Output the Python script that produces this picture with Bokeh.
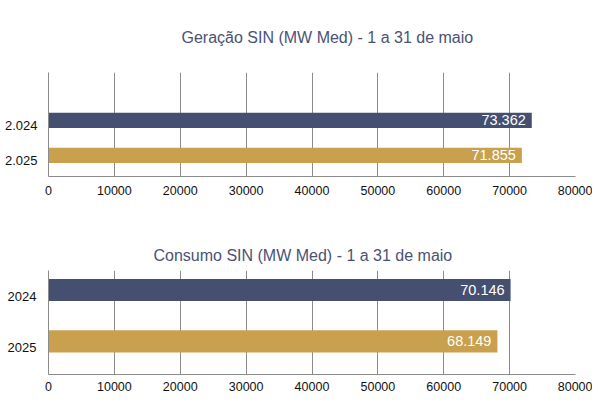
from bokeh.plotting import figure
from bokeh.models import ColumnDataSource, Range1d, FixedTicker, Title
from bokeh.layouts import column
from bokeh.transform import dodge
from bokeh.embed import file_html
from bokeh.resources import INLINE

# ---- data ----
title_top = "Geração SIN (MW Med) - 1 a 31 de maio"
cats_top = ["2.024", "2.025"]
vals_top = [73362, 71855]

title_bottom = "Consumo SIN (MW Med) - 1 a 31 de maio"
cats_bottom = ["2024", "2025"]
vals_bottom = [70146, 68149]

bar_colors = ["#454f6f", "#c8a04e"]
x_ticks = [0, 10000, 20000, 30000, 40000, 50000, 60000, 70000, 80000]

FONT = "Liberation Sans"
GRID = "#8c8c8c"
TITLE_COLOR = "#4a5274"


def br(v):
    return f"{v:,}".replace(",", ".")


def make_chart(title, cats, vals, height, y_lo, y_hi, bar_h, shift,
               b_left, b_right, b_top, b_bottom, title_offset, title_standoff,
               x_standoff, y_standoff):
    src = ColumnDataSource(dict(
        y=list(range(len(cats))),
        v=vals,
        c=bar_colors[:len(cats)],
        lab=[br(v) for v in vals],
    ))
    p = figure(width=592, height=height, output_backend="svg",
               toolbar_location=None, tools="",
               x_range=Range1d(0, 80000), y_range=Range1d(y_hi, y_lo),
               min_border_left=b_left, min_border_right=b_right,
               min_border_top=b_top, min_border_bottom=b_bottom)
    p.outline_line_color = None
    p.background_fill_color = "white"
    p.border_fill_color = "white"

    t = Title(text=title, align="left", offset=title_offset,
              text_font=FONT, text_font_size="16px",
              text_font_style="normal", text_color=TITLE_COLOR,
              standoff=title_standoff)
    p.add_layout(t, "above")

    p.hbar(y=dodge("y", shift), right="v", left=0, height=bar_h,
           fill_color="c", line_color=None, source=src)
    p.text(x="v", y=dodge("y", shift), text="lab", source=src,
           x_offset=-6, text_align="right", text_baseline="middle",
           text_color="white", text_font_size="14.5px",
           text_font={"value": FONT})

    # x axis
    p.xaxis.ticker = FixedTicker(ticks=x_ticks)
    p.xaxis.major_label_overrides = {t_: str(t_) for t_ in x_ticks}
    p.xaxis.major_tick_out = 0
    p.xaxis.major_tick_in = 0
    p.xaxis.minor_tick_out = 0
    p.xaxis.minor_tick_in = 0
    p.xaxis.axis_line_color = GRID
    p.xaxis.major_label_standoff = x_standoff
    p.xaxis.major_label_text_font = FONT
    p.xaxis.major_label_text_font_size = "12.5px"
    p.xaxis.major_label_text_color = "#111111"

    # y axis
    p.yaxis.ticker = FixedTicker(ticks=list(range(len(cats))))
    p.yaxis.major_label_overrides = {i: c for i, c in enumerate(cats)}
    p.yaxis.major_tick_out = 0
    p.yaxis.major_tick_in = 0
    p.yaxis.minor_tick_out = 0
    p.yaxis.minor_tick_in = 0
    p.yaxis.axis_line_color = GRID
    p.yaxis.major_label_standoff = y_standoff
    p.yaxis.major_label_text_font = FONT
    p.yaxis.major_label_text_font_size = "13px"
    p.yaxis.major_label_text_color = "#111111"

    p.xgrid.grid_line_color = GRID
    p.ygrid.grid_line_color = None
    return p


p1 = make_chart(title_top, cats_top, vals_top, 200,
                y_lo=-1.526, y_hi=1.443, bar_h=0.44, shift=-0.16,
                b_left=46, b_right=17, b_top=72, b_bottom=24,
                title_offset=133, title_standoff=53,
                x_standoff=9, y_standoff=11)
p2 = make_chart(title_bottom, cats_bottom, vals_bottom, 195,
                y_lo=-0.50, y_hi=1.524, bar_h=0.43, shift=-0.12,
                b_left=48, b_right=17, b_top=70, b_bottom=21,
                title_offset=105, title_standoff=14,
                x_standoff=7, y_standoff=12)

layout = column(p1, p2, spacing=0)
open("out.html", "w").write(file_html(layout, INLINE))
